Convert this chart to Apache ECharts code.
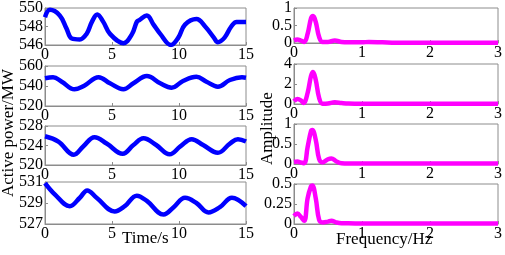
<!DOCTYPE html>
<html>
<head>
<meta charset="utf-8">
<script src="https://cdn.jsdelivr.net/npm/echarts@6/dist/echarts.min.js"></script>
<style>
  html, body { margin: 0; padding: 0; background: #fff; }
  #main { width: 505px; height: 255px; }
</style>
</head>
<body>
<div id="main"></div>
<script>
// active power (time domain), four units
var t1 = [0, 0.37, 1.1, 1.6, 2.0, 2.6, 3.1, 3.5, 3.9, 4.35, 4.85, 5.85, 6.5, 6.85, 7.04, 7.6, 8.1, 8.6, 9.4, 9.95, 10.45, 11.3, 11.95, 12.6, 12.9, 13.4, 13.9, 14.3, 15]
var p1 = [549.0, 549.8, 549.2, 547.8, 546.7, 546.6, 547.2, 548.5, 549.3, 548.5, 547.2, 546.2, 547.2, 548.5, 548.7, 549.2, 548.2, 547.2, 546.0, 546.8, 548.2, 548.8, 548.0, 546.8, 546.3, 546.8, 548.0, 548.5, 548.5]

var t2 = [0, 0.6, 1.25, 2.2, 2.9, 4.0, 4.85, 5.85, 6.6, 7.6, 8.6, 9.45, 10.3, 11.3, 12.05, 12.9, 13.8, 14.7, 15]
var p2 = [547.7, 548.7, 544.3, 536.7, 540.0, 548.7, 542.7, 536.7, 542.7, 550.0, 542.7, 538.3, 545.0, 549.3, 544.3, 539.3, 546.0, 548.7, 548.3]

var t3 = [0, 1.0, 2.15, 2.85, 3.7, 4.6, 5.8, 6.6, 7.35, 8.3, 9.3, 10.1, 10.95, 11.8, 12.9, 13.8, 14.4, 15]
var p3 = [525.9, 524.8, 522.1, 523.8, 525.7, 524.4, 522.3, 524.1, 525.5, 524.1, 522.2, 523.8, 525.3, 524.1, 522.5, 524.4, 525.3, 524.8]

var t4 = [0, 0.75, 1.85, 2.6, 3.15, 3.85, 5.2, 5.95, 6.85, 7.6, 8.85, 9.6, 10.45, 11.3, 12.2, 13.05, 13.95, 15]
var p4 = [530.9, 529.8, 528.7, 529.5, 530.2, 529.5, 528.2, 528.7, 529.7, 529.2, 527.9, 528.6, 529.5, 529.0, 528.1, 528.6, 529.5, 528.7]

// spectra
var f1 = [0, 0.05, 0.1, 0.15, 0.2, 0.25, 0.28, 0.32, 0.37, 0.42, 0.5, 0.6, 0.7, 0.8, 1.0, 1.1, 1.3, 1.5, 3]
var a1 = [0.07, 0.1, 0.07, 0.03, 0.26, 0.7, 0.77, 0.6, 0.17, 0.03, 0.03, 0.07, 0.03, 0.02, 0.02, 0.03, 0.02, 0.01, 0.01]

var f2 = [0, 0.05, 0.1, 0.14, 0.2, 0.25, 0.28, 0.32, 0.37, 0.42, 0.5, 0.6, 0.7, 0.8, 1.0, 3]
var a2 = [0.27, 0.5, 0.37, 0.1, 1.1, 2.8, 3.2, 2.4, 0.6, 0.03, 0.05, 0.17, 0.1, 0.05, 0.03, 0.02]

var f3 = [0, 0.05, 0.1, 0.15, 0.2, 0.25, 0.27, 0.32, 0.37, 0.42, 0.5, 0.55, 0.62, 0.7, 0.8, 3]
var a3 = [0.05, 0.06, 0.04, 0.02, 0.42, 0.82, 0.85, 0.6, 0.12, 0.04, 0.12, 0.14, 0.07, 0.02, 0.01, 0.01]

var f4 = [0, 0.05, 0.1, 0.15, 0.2, 0.25, 0.27, 0.32, 0.37, 0.42, 0.5, 0.55, 0.62, 0.7, 0.8, 1.0, 3]
var a4 = [0.1, 0.13, 0.09, 0.04, 0.32, 0.47, 0.48, 0.32, 0.05, 0.02, 0.03, 0.04, 0.02, 0.01, 0.01, 0.005, 0.005]

// y axis ranges [min, max, interval]
var powerRanges = [[546, 550, 2], [520, 560, 20], [520, 528, 4], [527, 531, 2]]
var ampRanges = [[0, 1, 0.5], [0, 4, 2], [0, 1, 0.5], [0, 0.5, 0.25]]

var timeX = [t1, t2, t3, t4]
var powerY = [p1, p2, p3, p4]
var freqX = [f1, f2, f3, f4]
var ampY = [a1, a2, a3, a4]

var font = "'Liberation Serif', 'Times New Roman', serif"
var leftTops = [6, 66, 126, 182]
var leftHeights = [39, 40, 39, 42]
var rightTops = [4, 64, 124, 184]
var rightHeights = [39, 40, 40, 40]

function pairs(xs, ys) {
  var out = []
  for (var i = 0; i < xs.length; i++) out.push([xs[i], ys[i]])
  return out
}

var grids = [], xAxes = [], yAxes = [], series = []

function addPanel(idx, left, width, top, height, xmax, xint, rng, data, color) {
  grids.push({left: left, top: top, width: width, height: height,
    show: true, borderColor: '#8c8c8c', borderWidth: 1, backgroundColor: 'transparent'})
  xAxes.push({type: 'value', gridIndex: idx, min: 0, max: xmax, interval: xint,
    axisLine: {show: true, lineStyle: {color: '#8c8c8c'}},
    axisTick: {show: true, inside: true, length: 3, lineStyle: {color: '#8c8c8c'}},
    axisLabel: {color: '#000', fontFamily: font, fontSize: 16, margin: 2},
    splitLine: {show: false}})
  yAxes.push({type: 'value', gridIndex: idx, min: rng[0], max: rng[1], interval: rng[2],
    axisLine: {show: true, lineStyle: {color: '#8c8c8c'}},
    axisTick: {show: true, inside: true, length: 3, lineStyle: {color: '#8c8c8c'}},
    axisLabel: {color: '#000', fontFamily: font, fontSize: 16, margin: 2},
    splitLine: {show: false}})
  series.push({type: 'line', xAxisIndex: idx, yAxisIndex: idx, data: data,
    smooth: 0.4, symbol: 'none', clip: true,
    lineStyle: {color: color, width: 4.5}})
}

for (var k = 0; k < 4; k++) {
  addPanel(k, 45, 201, leftTops[k], leftHeights[k], 15, 5, powerRanges[k], pairs(timeX[k], powerY[k]), '#0000ff')
}
for (var k = 0; k < 4; k++) {
  addPanel(4 + k, 294, 205, rightTops[k], rightHeights[k], 3, 1, ampRanges[k], pairs(freqX[k], ampY[k]), '#ff00ff')
}

var chart = echarts.init(document.getElementById('main'), null, {renderer: 'canvas'})
chart.setOption({
  animation: false,
  backgroundColor: '#fff',
  grid: grids,
  xAxis: xAxes,
  yAxis: yAxes,
  series: series,
  graphic: [
    {type: 'text', left: 122, top: 230, style: {text: 'Time/s', font: '17px ' + font, fill: '#000'}},
    {type: 'text', left: 336, top: 231, style: {text: 'Frequency/Hz', font: '17px ' + font, fill: '#000'}},
    {type: 'text', x: 0, y: 197, rotation: Math.PI / 2, style: {text: 'Active power/MW', font: '17px ' + font, fill: '#000'}},
    {type: 'text', x: 259, y: 165, rotation: Math.PI / 2, style: {text: 'Amplitude', font: '17px ' + font, fill: '#000'}}
  ]
})
</script>
</body>
</html>
